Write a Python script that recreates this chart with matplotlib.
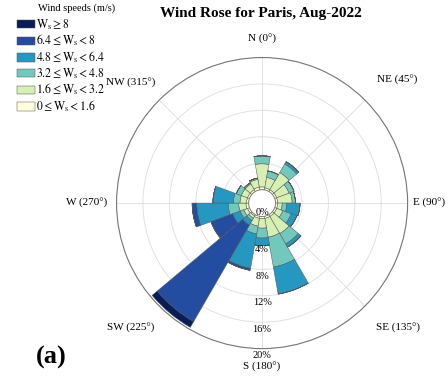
import numpy as np
import matplotlib
matplotlib.use('Agg')
import matplotlib.pyplot as plt

plt.rcParams['font.family'] = ['Liberation Serif', 'DejaVu Serif']
plt.rcParams['mathtext.fontset'] = 'stix'

# 18 direction sectors of 20 degrees, clockwise from north
dir_deg = np.arange(0, 360, 20)

# frequency (%) per speed bin for each sector
ws_0_16 = [0.4, 0.3, 0.3, 0.3, 0.3, 0.3, 0.3, 0.3, 0.3, 0.3, 0.3, 0.2, 0.3, 0.4, 0.3, 0.3, 0.3, 0.4]
ws_16_32 = [3.5, 1.6, 3.0, 2.0, 2.2, 0.7, 1.0, 3.0, 2.9, 1.45, 1.2, 0.4, 0.6, 1.1, 1.0, 1.0, 1.0, 1.2]
ws_32_48 = [1.2, 1.0, 1.5, 0.8, 0.5, 0.7, 1.35, 1.8, 4.6, 1.5, 1.2, 0.4, 0.6, 1.6, 1.0, 0.8, 0.2, 0.2]
ws_48_64 = [0.0, 0.0, 0.4, 0.0, 0.0, 2.0, 0.9, 0.55, 4.15, 1.15, 5.3, 0.8, 1.2, 4.75, 3.1, 0.0, 0.0, 0.0]
ws_64_8 = [0.0, 0.0, 0.0, 0.0, 0.0, 0.0, 0.0, 0.0, 0.0, 0.0, 0.3, 16.9, 3.5, 0.7, 0.0, 0.0, 0.0, 0.0]
ws_8 = [0.0, 0.0, 0.0, 0.0, 0.0, 0.0, 0.0, 0.0, 0.0, 0.0, 0.0, 1.0, 0.0, 0.0, 0.0, 0.0, 0.0, 0.0]

bins = [ws_0_16, ws_16_32, ws_32_48, ws_48_64, ws_64_8, ws_8]
bin_labels = [r'$0 \leq \mathrm{W}_\mathrm{s} < 1.6$',
              r'$1.6 \leq \mathrm{W}_\mathrm{s} < 3.2$',
              r'$3.2 \leq \mathrm{W}_\mathrm{s} < 4.8$',
              r'$4.8 \leq \mathrm{W}_\mathrm{s} < 6.4$',
              r'$6.4 \leq \mathrm{W}_\mathrm{s} < 8$',
              r'$\mathrm{W}_\mathrm{s} \geq 8$']

r_ticks = [4, 8, 12, 16, 20]
compass_deg = np.arange(0, 360, 45)
compass_labels = ['N (0°)', 'NE (45°)', 'E (90°)', 'SE (135°)',
                  'S (180°)', 'SW (225°)', 'W (270°)', 'NW (315°)']

colors = plt.get_cmap('YlGnBu')(np.linspace(0, 1, 6))

fig = plt.figure(figsize=(4.48, 3.81), dpi=100)
ax = fig.add_axes([0.26, 0.085, 0.65, 0.764], projection='polar')
ax.set_theta_zero_location('N')
ax.set_theta_direction(-1)

theta = np.deg2rad(dir_deg)
width = np.deg2rad(20)
bottom = np.zeros(len(dir_deg))
handles = []
for vals, c, lab in zip(bins, colors, bin_labels):
    vals = np.array(vals)
    h = ax.bar(theta, vals, width=width, bottom=bottom, color=c,
               edgecolor='#555555', linewidth=0.35, label=lab, zorder=3)
    handles.append(h)
    bottom += vals

ax.set_ylim(0, 20)
ax.set_rorigin(-2.05)
ax.set_rgrids(r_ticks, labels=[''] * len(r_ticks))
ax.set_thetagrids(compass_deg, labels=[''] * len(compass_deg))
ax.grid(color='#dddddd', linewidth=0.6)
ax.spines['polar'].set_color('#777777')
ax.spines['polar'].set_linewidth(0.8)
ax.spines['inner'].set_color('#777777')
ax.spines['inner'].set_linewidth(0.8)

# radial labels along the south spoke, just outside each ring
for t in r_ticks:
    ax.text(np.pi, t + 0.35, f'{t}%', ha='center', va='top', fontsize=7.5, zorder=5)
ax.text(np.pi, 0, '0%', ha='center', va='bottom', fontsize=7.5, zorder=5)

# compass labels centred outside the outer ring
label_pos = [(0, 22.8), (47.6, 25.7), (90, 23.3), (132.7, 25.9),
             (180, 22.8), (226.5, 25.4), (270, 24.5), (312.4, 25.0)]
for (d, rl), lab in zip(label_pos, compass_labels):
    ax.text(np.deg2rad(d), rl, lab, ha='center', va='center', fontsize=8, clip_on=False)

fig.text(0.582, 0.965, 'Wind Rose for Paris, Aug-2022', ha='center', va='center',
         fontsize=11, fontweight='bold')

fig.text(0.085, 0.979, 'Wind speeds (m/s)', ha='left', va='center', fontsize=7.5)
fig.legend(handles[::-1], bin_labels[::-1], loc='upper left', bbox_to_anchor=(0.037, 0.955),
           frameon=False, fontsize=8.5, handlelength=1.6, handleheight=0.7,
           labelspacing=0.1, handletextpad=0.05, borderaxespad=0.0, borderpad=0.0)

fig.text(0.114, 0.062, '(a)', ha='center', va='center', fontsize=19, fontweight='bold')

fig.savefig('out.png', dpi=100)
